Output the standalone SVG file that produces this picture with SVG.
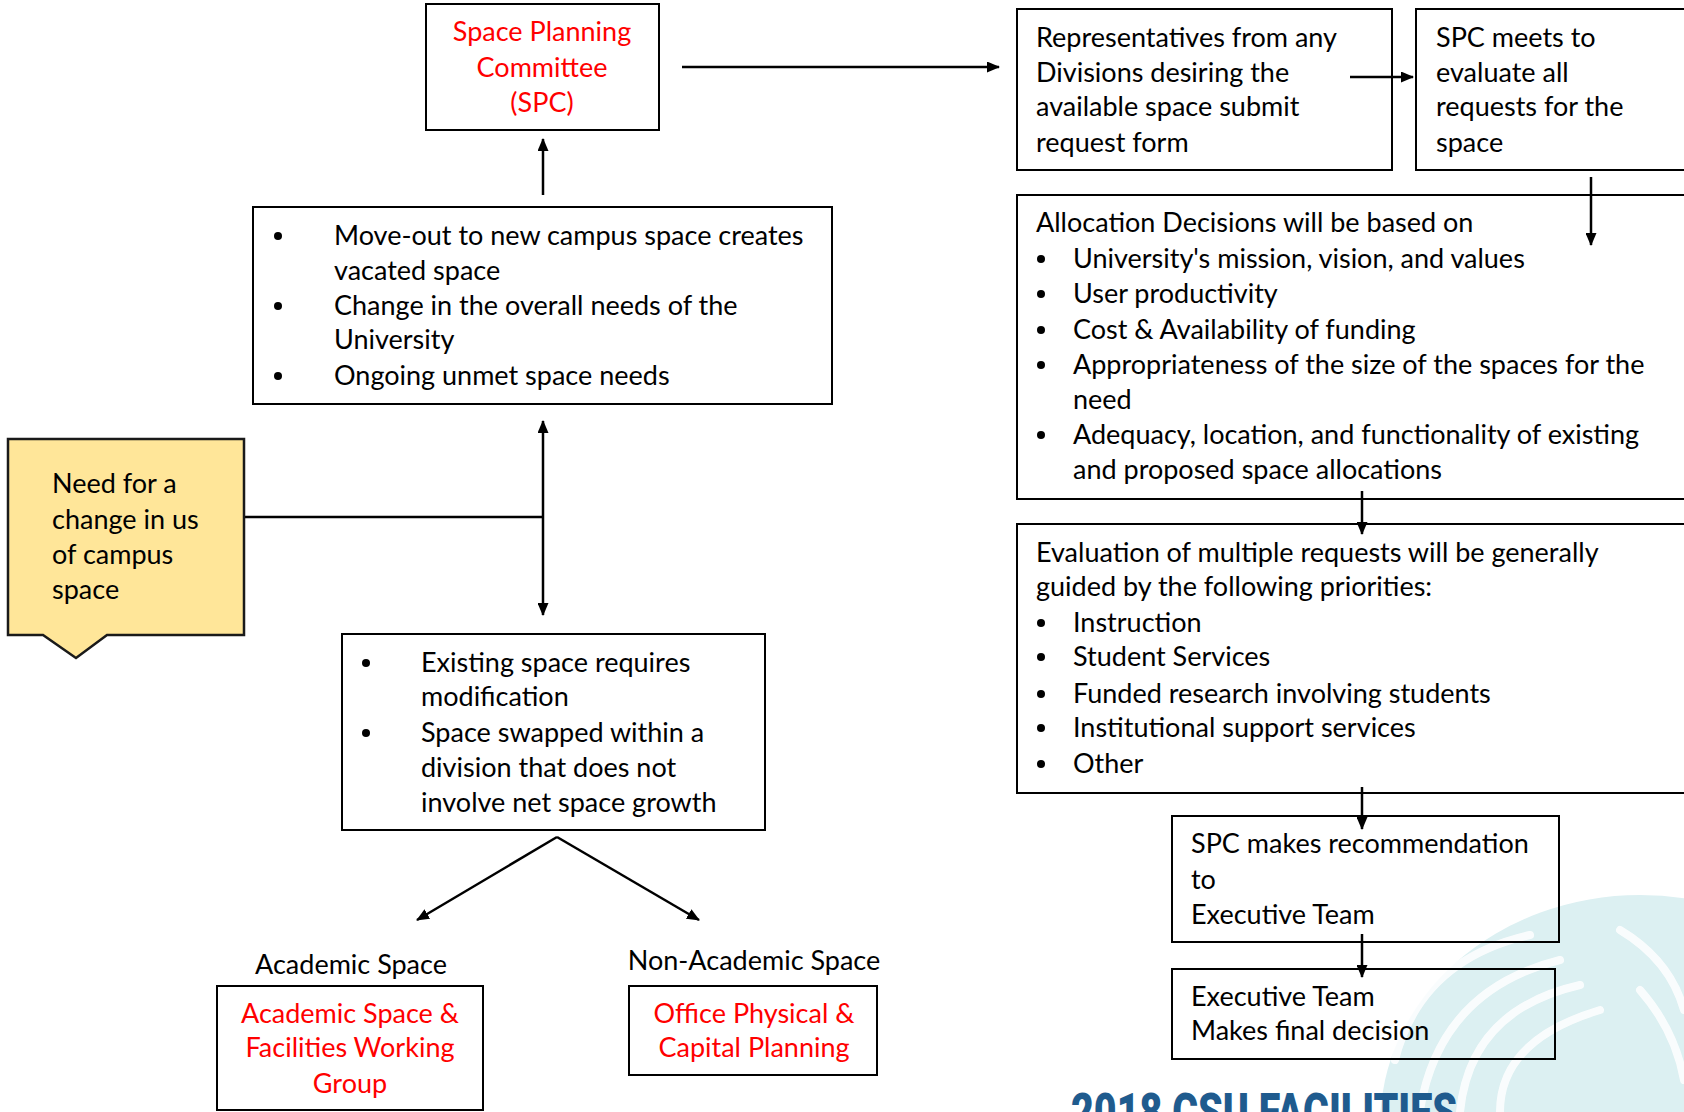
<svg xmlns="http://www.w3.org/2000/svg" width="1684" height="1112" viewBox="0 0 1684 1112">
<defs>
<style>
.box{fill:none;stroke:#000;stroke-width:2}
.t{font-family:Lato,"Liberation Sans",sans-serif;font-size:27px;fill:#000}
.r{fill:#ff0000}
.c{text-anchor:middle}
.ln{stroke:#000;stroke-width:2.5;fill:none}
.arr{stroke:#000;stroke-width:2.5;fill:none;marker-end:url(#ah)}
</style>
<marker id="ah" viewBox="0 0 13 11" refX="12" refY="5.5" markerWidth="13" markerHeight="11" markerUnits="userSpaceOnUse" orient="auto-start-reverse">
<path d="M0,0 L13,5.5 L0,11 Z" fill="#000"/>
</marker>
<clipPath id="page"><rect x="0" y="0" width="1684" height="1112"/></clipPath>
</defs>
<rect width="1684" height="1112" fill="#fff"/>

<g id="watermark" clip-path="url(#page)">
<ellipse cx="1640" cy="1125" rx="260" ry="230" fill="#dcf0f2"/>
<g fill="none" stroke="#ffffff" stroke-width="8" opacity="0.85" stroke-linecap="round">
<path d="M1420,1110 Q1440,990 1560,960"/>
<path d="M1460,1112 Q1470,1010 1580,985"/>
<path d="M1500,1112 Q1500,1040 1600,1010"/>
<path d="M1395,1060 Q1420,960 1530,935"/>
<path d="M1620,930 Q1670,960 1684,1010"/>
<path d="M1640,990 Q1675,1030 1684,1080"/>
</g>
<text x="1071" y="1130" font-family="Roboto,'Liberation Sans',sans-serif" font-weight="900" font-size="52" fill="#1f5b8e" textLength="386" lengthAdjust="spacingAndGlyphs">2018 CSU FACILITIES</text>
</g>

<g id="connectors">
<line class="arr" x1="682" y1="67" x2="999" y2="67"/>
<line class="arr" x1="543" y1="195" x2="543" y2="139"/>
<line class="arr" x1="1350" y1="77" x2="1413" y2="77"/>
<line class="arr" x1="1591" y1="177" x2="1591" y2="245"/>
<line class="arr" x1="1362" y1="491" x2="1362" y2="534"/>
<line class="arr" x1="1362" y1="787" x2="1362" y2="829"/>
<line class="arr" x1="1362" y1="934" x2="1362" y2="977"/>
<line class="ln" x1="244" y1="517" x2="543" y2="517"/>
<line class="arr" x1="543" y1="421" x2="543" y2="615" marker-start="url(#ah)"/>
<line class="arr" x1="557" y1="837" x2="417" y2="920"/>
<line class="arr" x1="557" y1="837" x2="699" y2="920"/>
</g>

<g id="spc">
<rect class="box" x="426" y="4" width="233" height="126"/>
<text class="t r c" x="542" y="41">Space Planning</text>
<text class="t r c" x="542" y="77">Committee</text>
<text class="t r c" x="542" y="112">(SPC)</text>
</g>

<g id="triggers">
<rect class="box" x="253" y="207" width="579" height="197"/>
<circle cx="278" cy="236" r="4"/>
<circle cx="278" cy="306" r="4"/>
<circle cx="278" cy="376" r="4"/>
<text class="t" x="334" y="245">Move-out to new campus space creates</text>
<text class="t" x="334" y="280">vacated space</text>
<text class="t" x="334" y="315">Change in the overall needs of the</text>
<text class="t" x="334" y="349">University</text>
<text class="t" x="334" y="385">Ongoing unmet space needs</text>
</g>

<g id="need">
<path d="M8,439 H244 V635 H107 L76,658 L43,635 H8 Z" fill="#ffe699" stroke="#1a1a1a" stroke-width="2.5"/>
<text class="t" x="52" y="493">Need for a</text>
<text class="t" x="52" y="529">change in us</text>
<text class="t" x="52" y="564">of campus</text>
<text class="t" x="52" y="599">space</text>
</g>

<g id="modification">
<rect class="box" x="342" y="634" width="423" height="196"/>
<circle cx="366" cy="663" r="4"/>
<circle cx="366" cy="733" r="4"/>
<text class="t" x="421" y="672">Existing space requires</text>
<text class="t" x="421" y="706">modification</text>
<text class="t" x="421" y="742">Space swapped within a</text>
<text class="t" x="421" y="777">division that does not</text>
<text class="t" x="421" y="812">involve net space growth</text>
</g>

<g id="academic">
<text class="t c" x="351" y="974">Academic Space</text>
<rect class="box" x="217" y="986" width="266" height="124"/>
<text class="t r c" x="350" y="1023">Academic Space &amp;</text>
<text class="t r c" x="350" y="1057">Facilities Working</text>
<text class="t r c" x="350" y="1093">Group</text>
</g>

<g id="nonacademic">
<text class="t c" x="754" y="970">Non-Academic Space</text>
<rect class="box" x="629" y="986" width="248" height="89"/>
<text class="t r c" x="754" y="1023">Office Physical &amp;</text>
<text class="t r c" x="754" y="1057">Capital Planning</text>
</g>

<g id="reps">
<rect class="box" x="1017" y="9" width="375" height="161"/>
<text class="t" x="1036" y="47">Representatives from any</text>
<text class="t" x="1036" y="82">Divisions desiring the</text>
<text class="t" x="1036" y="116">available space submit</text>
<text class="t" x="1036" y="152">request form</text>
</g>

<g id="meets">
<rect class="box" x="1416" y="9" width="290" height="161"/>
<text class="t" x="1436" y="47">SPC meets to</text>
<text class="t" x="1436" y="82">evaluate all</text>
<text class="t" x="1436" y="116">requests for the</text>
<text class="t" x="1436" y="152">space</text>
</g>

<g id="allocation">
<rect class="box" x="1017" y="195" width="690" height="304"/>
<text class="t" x="1036" y="232">Allocation Decisions will be based on</text>
<circle cx="1041" cy="259" r="4"/>
<circle cx="1041" cy="294" r="4"/>
<circle cx="1041" cy="330" r="4"/>
<circle cx="1041" cy="365" r="4"/>
<circle cx="1041" cy="435" r="4"/>
<text class="t" x="1073" y="268">University's mission, vision, and values</text>
<text class="t" x="1073" y="303">User productivity</text>
<text class="t" x="1073" y="339">Cost &amp; Availability of funding</text>
<text class="t" x="1073" y="374">Appropriateness of the size of the spaces for the</text>
<text class="t" x="1073" y="409">need</text>
<text class="t" x="1073" y="444">Adequacy, location, and functionality of existing</text>
<text class="t" x="1073" y="479">and proposed space allocations</text>
</g>

<g id="evaluation">
<rect class="box" x="1017" y="524" width="690" height="269"/>
<text class="t" x="1036" y="562">Evaluation of multiple requests will be generally</text>
<text class="t" x="1036" y="596">guided by the following priorities:</text>
<circle cx="1041" cy="623" r="4"/>
<circle cx="1041" cy="657" r="4"/>
<circle cx="1041" cy="694" r="4"/>
<circle cx="1041" cy="728" r="4"/>
<circle cx="1041" cy="764" r="4"/>
<text class="t" x="1073" y="632">Instruction</text>
<text class="t" x="1073" y="666">Student Services</text>
<text class="t" x="1073" y="703">Funded research involving students</text>
<text class="t" x="1073" y="737">Institutional support services</text>
<text class="t" x="1073" y="773">Other</text>
</g>

<g id="recommend">
<rect class="box" x="1172" y="816" width="387" height="126"/>
<text class="t" x="1191" y="853">SPC makes recommendation</text>
<text class="t" x="1191" y="889">to</text>
<text class="t" x="1191" y="924">Executive Team</text>
</g>

<g id="executive">
<rect class="box" x="1172" y="969" width="383" height="90"/>
<text class="t" x="1191" y="1006">Executive Team</text>
<text class="t" x="1191" y="1040">Makes final decision</text>
</g>
</svg>
